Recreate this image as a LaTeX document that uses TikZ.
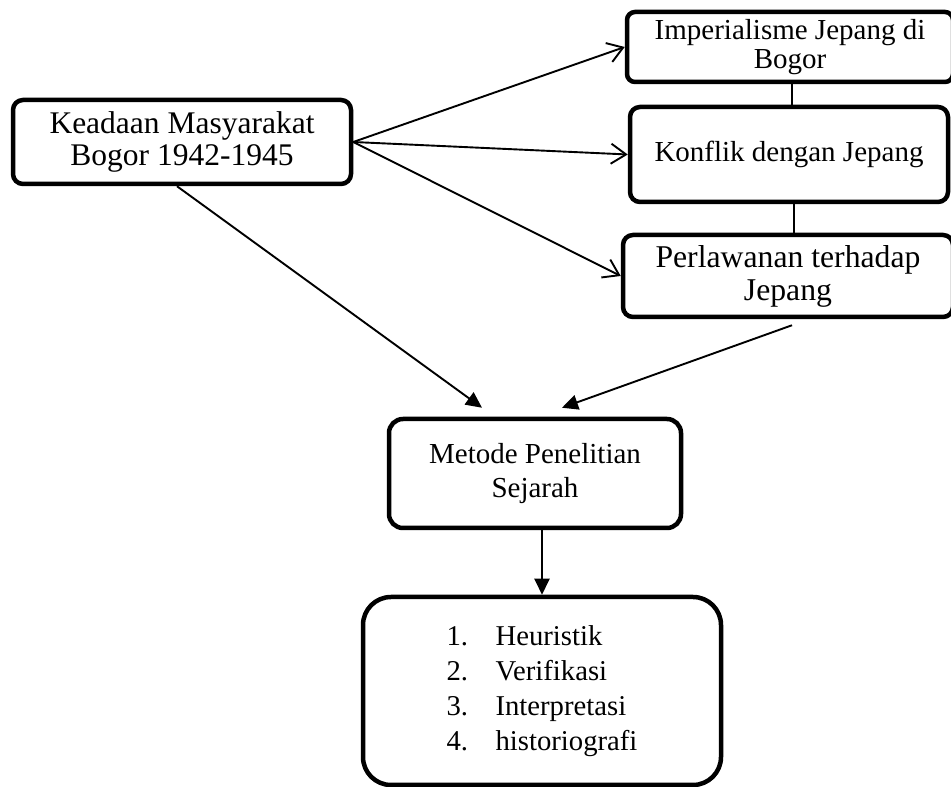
\documentclass[tikz,border=0pt]{standalone}
\usepackage{fontspec}
\setmainfont{Liberation Serif}
\usetikzlibrary{arrows.meta}
\begin{document}
\begin{tikzpicture}[x=1pt,y=1pt,
  box/.style={draw, line width=4.5pt, rounded corners=10pt, align=center, inner sep=0pt},
  openarrow/.style={line width=1.9pt, -{Straight Barb[length=15pt,width=20pt,line width=1.9pt]}},
  fillarrow/.style={line width=1.9pt, -{Triangle[length=16pt,width=15pt]}},
  plainline/.style={line width=1.9pt}]
\useasboundingbox (0,0) rectangle (951,787);
\node[box, minimum width=338pt, minimum height=84pt, font=\fontsize{31.5}{32}\selectfont] (A) at (182,645) {Keadaan Masyarakat\\Bogor 1942-1945};
\node[box, rounded corners=8pt, minimum width=326pt, minimum height=70pt, font=\fontsize{29}{29}\selectfont] (B) at (790,740) {Imperialisme Jepang di\\Bogor};
\node[box, minimum width=318pt, minimum height=95pt, font=\fontsize{29}{35}\selectfont] (C) at (789,632.5) {Konflik dengan Jepang};
\node[box, minimum width=330pt, minimum height=82pt, font=\fontsize{31.7}{33}\selectfont] (D) at (788,511) {Perlawanan terhadap\\Jepang};
\node[box, rounded corners=14pt, minimum width=292pt, minimum height=109pt, font=\fontsize{29}{34}\selectfont] (E) at (535,313.5) {Metode Penelitian\\Sejarah};
\node[box, rounded corners=28pt, minimum width=358pt, minimum height=188pt, font=\fontsize{28.7}{35}\selectfont] (F) at (542,96)
  {\begin{tabular}{@{}l@{}}\makebox[49pt][l]{1.}Heuristik\\ \makebox[49pt][l]{2.}Verifikasi\\ \makebox[49pt][l]{3.}Interpretasi\\ \makebox[49pt][l]{4.}historiografi\end{tabular}};
\draw[openarrow] (A.east) -- (B.west);
\draw[openarrow] (A.east) -- (C.west);
\draw[openarrow] (A.east) -- (D.west);
\draw[fillarrow] ([xshift=-5pt]A.south) -- ([shift={(-53pt,9pt)}]E.north);
\draw[fillarrow] ([shift={(4pt,-6pt)}]D.south) -- ([shift={(27pt,9pt)}]E.north);
\draw[fillarrow] (E.south -| F.north) -- (F.north);
\coordinate (bc) at ([xshift=2pt]B.south);
\coordinate (cd) at ([xshift=5pt]C.south);
\draw[plainline] (bc) -- (bc |- C.north);
\draw[plainline] (cd) -- (cd |- D.north);
\end{tikzpicture}
\end{document}
